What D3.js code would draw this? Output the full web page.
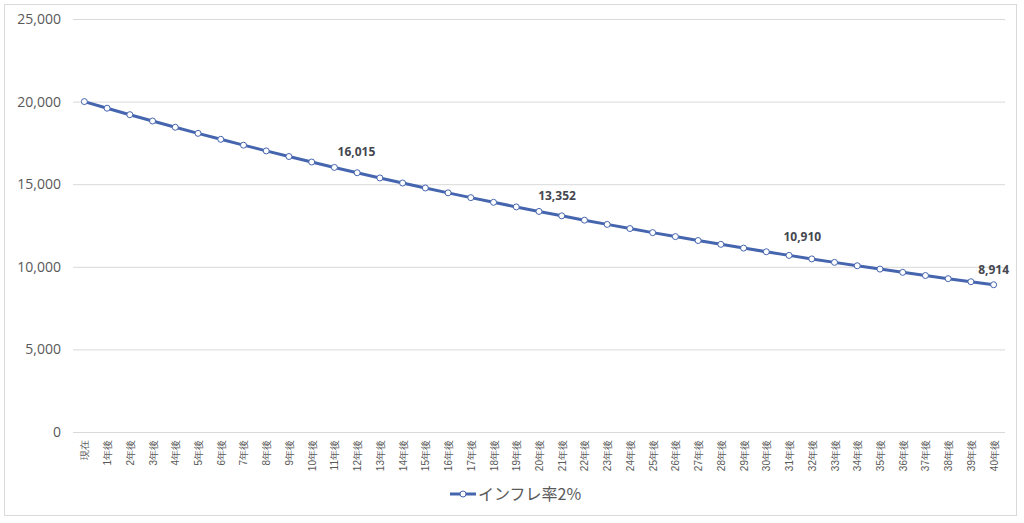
<!DOCTYPE html>
<html>
<head>
<meta charset="utf-8">
<script src="https://cdn.jsdelivr.net/npm/d3@7"></script>
<style>
  body { margin: 0; background: #fff; }
  svg { font-family: "Noto Sans CJK JP", "Noto Sans", sans-serif; }
</style>
</head>
<body>
<div id="chart"></div>
<script>
// category labels (x axis)
let categories = ["現在"];
for (let i = 1; i <= 40; i++) categories.push(i + "年後");

// values (inflation 2%)
let values = [20000, 19600, 19208, 18824, 18447, 18078, 17717, 17363, 17015, 16675,
    16341, 16015, 15694, 15380, 15073, 14771, 14476, 14186, 13903, 13625,
    13352, 13085, 12823, 12567, 12316, 12069, 11828, 11591, 11360, 11132,
    10910, 10691, 10478, 10268, 10063, 9861, 9664, 9471, 9282, 9096, 8914];

let yTicks = [0, 5000, 10000, 15000, 20000, 25000];
let labelIdx = [11, 20, 30, 40];
let labelShift = [22, 18, 36, 0];
let seriesName = "インフレ率2%";

const W = 1024, H = 523;
const margin = {top: 19, right: 19, bottom: 91, left: 73};
const width = W - margin.left - margin.right;
const height = H - margin.top - margin.bottom;
const lineColor = "#4565ae";

const root = d3.select("#chart").append("svg")
    .attr("width", W)
    .attr("height", H);

// outer frame
root.append("rect")
    .attr("x", 4.5).attr("y", 4.5)
    .attr("width", 1012).attr("height", 511)
    .attr("fill", "none")
    .attr("stroke", "#d9d9d9");

const svg = root.append("g")
    .attr("transform", "translate(" + margin.left + "," + margin.top + ")");

const x = d3.scalePoint()
    .domain(categories)
    .range([0, width])
    .padding(0.5);

const y = d3.scaleLinear()
    .domain([0, 25000])
    .range([height, 0]);

// gridlines
svg.append("g")
    .selectAll("line")
    .data(yTicks)
    .enter().append("line")
    .attr("x1", 0).attr("x2", width)
    .attr("y1", d => y(d) + 0.5).attr("y2", d => y(d) + 0.5)
    .attr("stroke", "#d9d9d9");

// y axis labels
const yAxis = svg.append("g")
    .call(d3.axisLeft(y).tickValues(yTicks).tickSize(0).tickPadding(12).tickFormat(d3.format(",")));
yAxis.select(".domain").remove();
yAxis.selectAll("text")
    .attr("fill", "#595959")
    .style("font-size", "14px")
    .style("font-family", "Open Sans, sans-serif");

// x axis labels (rotated)
const xAxis = svg.append("g")
    .attr("transform", "translate(0," + height + ")")
    .call(d3.axisBottom(x).tickSize(0));
xAxis.select(".domain").remove();
xAxis.selectAll("text")
    .attr("transform", "rotate(-90)")
    .attr("x", -8)
    .attr("y", 0)
    .attr("dy", "0.35em")
    .style("text-anchor", "end")
    .style("font-size", "10px")
    .attr("fill", "#595959");

// line
svg.append("path")
    .datum(values)
    .attr("fill", "none")
    .attr("stroke", lineColor)
    .attr("stroke-width", 3)
    .attr("d", d3.line()
        .x((d, i) => x(categories[i]))
        .y(d => y(d)));

// markers
svg.append("g")
    .selectAll("circle")
    .data(values)
    .enter().append("circle")
    .attr("cx", (d, i) => x(categories[i]))
    .attr("cy", d => y(d))
    .attr("r", 3)
    .attr("fill", "#fff")
    .attr("stroke", lineColor)
    .attr("stroke-width", 1);

// data labels
svg.append("g")
    .selectAll("text")
    .data(labelIdx)
    .enter().append("text")
    .attr("x", (d, i) => x(categories[d]) + labelShift[i])
    .attr("y", d => y(values[d]) - 11)
    .attr("text-anchor", "middle")
    .style("font-size", "12px")
    .style("font-weight", "bold")
    .style("font-family", "Open Sans, sans-serif")
    .attr("fill", "#44474f")
    .text(d => d3.format(",")(values[d]));

// legend
const lg = root.append("g").attr("transform", "translate(450,494)");
lg.append("line")
    .attr("x1", 0).attr("x2", 26)
    .attr("stroke", lineColor).attr("stroke-width", 3);
lg.append("circle")
    .attr("cx", 13).attr("r", 3)
    .attr("fill", "#fff").attr("stroke", lineColor);
lg.append("text")
    .attr("x", 28).attr("dy", "0.35em")
    .style("font-size", "16px")
    .attr("fill", "#595959")
    .text(seriesName);
</script>
</body>
</html>
